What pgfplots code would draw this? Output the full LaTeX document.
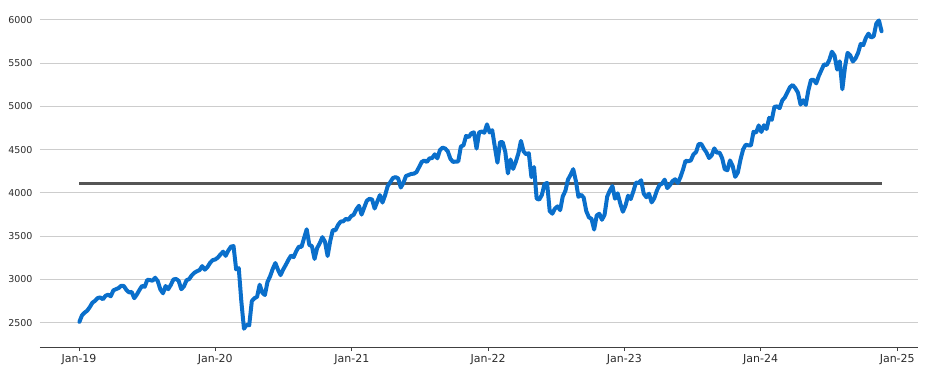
\documentclass[border=0pt]{standalone}
\usepackage{fontspec}
\setmainfont{DejaVu Sans}
\usepackage{pgfplots}
\usepackage{pgfplotstable}
\pgfplotsset{compat=1.18}
\definecolor{spblue}{HTML}{0A6FCB}
\definecolor{avggray}{HTML}{555555}
\definecolor{gridgray}{HTML}{CDCDCD}
\definecolor{axisgray}{HTML}{404040}
\definecolor{labelgray}{HTML}{2B2B2B}

% weekly (Wednesday) index level, first row = 2 Jan 2019
\pgfplotstableread[row sep=\\]{
v\\
2510\\ 2585\\ 2616\\ 2639\\ 2681\\ 2732\\ 2753\\ 2785\\ 2792\\ 2771\\
2811\\ 2824\\ 2805\\ 2873\\ 2888\\ 2900\\ 2927\\ 2924\\ 2879\\ 2850\\
2856\\ 2783\\ 2826\\ 2879\\ 2926\\ 2914\\ 2996\\ 2993\\ 2985\\ 3020\\
2980\\ 2884\\ 2840\\ 2924\\ 2887\\ 2937\\ 3000\\ 3006\\ 2984\\ 2887\\
2919\\ 2990\\ 3004\\ 3047\\ 3077\\ 3095\\ 3108\\ 3154\\ 3113\\ 3142\\
3191\\ 3223\\
3231\\ 3253\\ 3289\\ 3321\\ 3273\\ 3334\\ 3379\\ 3386\\ 3116\\ 3130\\
2741\\ 2430\\ 2475\\ 2470\\ 2750\\ 2783\\ 2799\\ 2939\\ 2848\\ 2820\\
2972\\ 3036\\ 3122\\ 3190\\ 3113\\ 3050\\ 3115\\ 3169\\ 3227\\ 3276\\
3258\\ 3327\\ 3380\\ 3375\\ 3479\\ 3580\\ 3399\\ 3385\\ 3237\\ 3363\\
3419\\ 3489\\ 3436\\ 3271\\ 3443\\ 3572\\ 3568\\ 3630\\ 3669\\ 3672\\
3701\\ 3690\\ 3732\\
3748\\ 3810\\ 3852\\ 3750\\ 3830\\ 3910\\ 3932\\ 3925\\ 3820\\ 3899\\
3975\\ 3889\\ 3973\\ 4080\\ 4125\\ 4173\\ 4183\\ 4168\\ 4063\\ 4116\\
4196\\ 4208\\ 4220\\ 4223\\ 4241\\ 4298\\ 4358\\ 4375\\ 4359\\ 4400\\
4403\\ 4447\\ 4400\\ 4496\\ 4524\\ 4514\\ 4480\\ 4395\\ 4359\\ 4363\\
4364\\ 4537\\ 4551\\ 4660\\ 4646\\ 4689\\ 4701\\ 4513\\ 4701\\ 4710\\
4697\\ 4793\\
4700\\ 4726\\ 4533\\ 4350\\ 4589\\ 4587\\ 4475\\ 4226\\ 4387\\ 4278\\
4358\\ 4456\\ 4602\\ 4481\\ 4447\\ 4459\\ 4183\\ 4300\\ 3935\\ 3923\\
3978\\ 4101\\ 4116\\ 3790\\ 3760\\ 3819\\ 3845\\ 3801\\ 3960\\ 4024\\
4155\\ 4210\\ 4275\\ 4141\\ 3955\\ 3980\\ 3946\\ 3790\\ 3719\\ 3700\\
3577\\ 3740\\ 3760\\ 3690\\ 3748\\ 3958\\ 4027\\ 4080\\ 3933\\ 3996\\
3879\\ 3783\\
3853\\ 3969\\ 3929\\ 4017\\ 4119\\ 4117\\ 4147\\ 3991\\ 3951\\ 3992\\
3891\\ 3937\\ 4027\\ 4091\\ 4108\\ 4154\\ 4056\\ 4091\\ 4137\\ 4158\\
4115\\ 4180\\ 4268\\ 4373\\ 4366\\ 4376\\ 4446\\ 4472\\ 4565\\ 4567\\
4513\\ 4468\\ 4404\\ 4436\\ 4515\\ 4465\\ 4467\\ 4402\\ 4274\\ 4263\\
4376\\ 4314\\ 4186\\ 4237\\ 4383\\ 4502\\ 4557\\ 4551\\ 4549\\ 4707\\
4698\\ 4781\\
4705\\ 4783\\ 4739\\ 4869\\ 4846\\ 4995\\ 5001\\ 4981\\ 5070\\ 5105\\
5165\\ 5225\\ 5248\\ 5211\\ 5161\\ 5022\\ 5072\\ 5018\\ 5188\\ 5308\\
5307\\ 5267\\ 5354\\ 5421\\ 5487\\ 5478\\ 5537\\ 5633\\ 5589\\ 5427\\
5522\\ 5199\\ 5455\\ 5620\\ 5592\\ 5520\\ 5554\\ 5618\\ 5722\\ 5709\\
5792\\ 5842\\ 5797\\ 5813\\ 5960\\ 5995\\ 5870\\
}\spdata

\begin{document}
\begin{tikzpicture}
\begin{axis}[
  scale only axis, width=878pt, height=347pt,
  xmin=-15.07, xmax=320.95, ymin=2219, ymax=6231,
  axis x line*=bottom, axis y line*=left,
  y axis line style={draw=none},
  x axis line style={draw=axisgray, line width=1pt, -},
  xtick={-0.143,52,104.286,156.429,208.571,260.714,313},
  xticklabels={Jan-19,Jan-20,Jan-21,Jan-22,Jan-23,Jan-24,Jan-25},
  ytick={2500,3000,3500,4000,4500,5000,5500,6000},
  ymajorgrids, grid style={gridgray, line width=1pt},
  tick align=outside, major tick length=4pt,
  xtick style={axisgray, line width=0.8pt},
  ytick style={draw=none},
  xticklabel style={font=\fontsize{11}{13}\selectfont, text=labelgray},
  yticklabel style={font=\fontsize{9.5}{11}\selectfont, text=labelgray},
  /pgf/number format/.cd, 1000 sep={}, assume math mode=true,
]
\addplot[avggray, line width=2.8pt, mark=none] coordinates {(0,4107) (307,4107)};
\addplot[spblue, line width=4pt, line join=round, line cap=round, mark=none]
  table[x expr=\coordindex, y=v] {\spdata};
\end{axis}
\path ([xshift=-40pt,yshift=-23pt]current axis.south west) rectangle ([xshift=7pt]current axis.north east);
\end{tikzpicture}
\end{document}
